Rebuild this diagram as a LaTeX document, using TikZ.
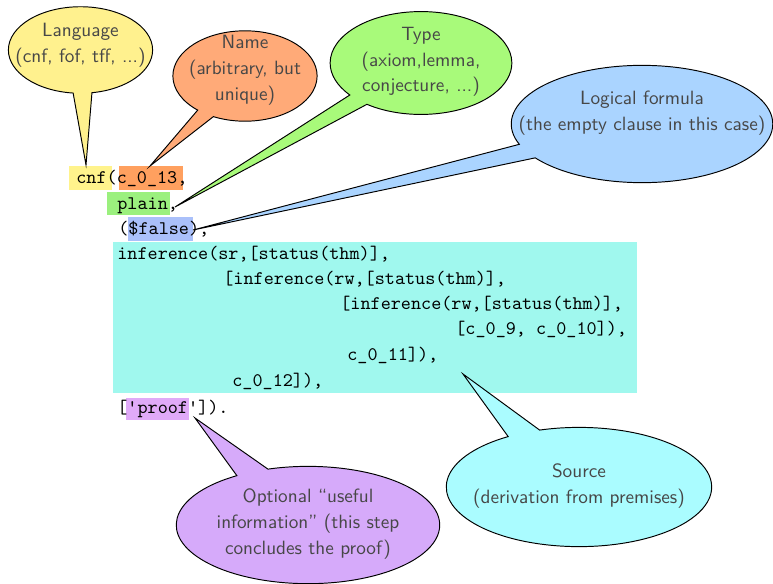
\documentclass[tikz,border=0pt]{standalone}
\usetikzlibrary{shapes.callouts}
% bubble colours
\definecolor{langfill}{RGB}{255,241,142}
\definecolor{namefill}{RGB}{255,170,120}
\definecolor{typefill}{RGB}{168,250,122}
\definecolor{formfill}{RGB}{170,212,255}
\definecolor{srcfill}{RGB}{170,252,255}
\definecolor{optfill}{RGB}{214,170,250}
% highlight colours
\definecolor{hlyellow}{RGB}{255,243,140}
\definecolor{hlorange}{RGB}{255,160,95}
\definecolor{hlgreen}{RGB}{155,240,126}
\definecolor{hlblue}{RGB}{170,192,250}
\definecolor{hlcyan}{RGB}{160,248,238}
\definecolor{hlpurple}{RGB}{224,170,248}
\begin{document}
\begin{tikzpicture}[x=0.52pt,y=-0.52pt,
  bubble/.style={ellipse callout, draw=black, line width=0.5pt, inner sep=0pt},
  btext/.style={font=\sffamily\fontsize{10}{13.4}\selectfont, text=black!72, align=center, inner sep=0pt},
  code/.style={font=\ttfamily, anchor=base west, inner sep=0pt}]
\useasboundingbox (0,0) rectangle (773,583);

% highlighted parts of the clause
\fill[hlyellow] (69,166) rectangle (112,190);
\fill[hlorange] (119,166) rectangle (183,190);
\fill[hlgreen]  (107,192) rectangle (170,215);
\fill[hlblue]   (128,217) rectangle (193,241);
\fill[hlcyan]   (113,242) rectangle (637,393);
\fill[hlpurple] (126,398) rectangle (189,420);

% the TPTP clause
\node[code] (l1)  at (76,183)  {cnf(c\_0\_13,};
\node[code] (l2)  at (117,209) {plain,};
\node[code] (l3)  at (118,234) {(\$false),};
\node[code] (l4)  at (117,259) {inference(sr,[status(thm)],};
\node[code] (l5)  at (223,284) {[inference(rw,[status(thm)],};
\node[code] (l6)  at (340,309) {[inference(rw,[status(thm)],};
\node[code] (l7)  at (455,334) {[c\_0\_9, c\_0\_10]),};
\node[code] (l8)  at (347,360) {c\_0\_11]),};
\node[code] (l9)  at (232,386) {c\_0\_12]),};
\node[code] (l10) at (117,413) {[\textquotesingle proof\textquotesingle]).};

% pointer targets
\coordinate (plang) at (86,165);
\coordinate (pname) at (150,166);
\coordinate (ptype) at (175,207);
\coordinate (pform) at (193,230);
\coordinate (psrc)  at (463,374);
\coordinate (popt)  at (195,418);

% callouts
\node[bubble, fill=langfill, minimum width=75pt, minimum height=45pt,
      callout absolute pointer={(plang)}] (lang) at (80.5,50) {};
\node[bubble, fill=namefill, minimum width=75pt, minimum height=47pt,
      callout absolute pointer={(pname)}] (name) at (245,76) {};
\node[bubble, fill=typefill, minimum width=94.5pt, minimum height=53.5pt,
      callout absolute pointer={(ptype)}] (type) at (421,63) {};
\node[bubble, fill=formfill, minimum width=136pt, minimum height=61pt,
      callout absolute pointer={(pform)}] (form) at (642,124) {};
\node[bubble, fill=srcfill, minimum width=138pt, minimum height=62pt,
      callout absolute pointer={(psrc)}] (src) at (579,487) {};
\node[bubble, fill=optfill, minimum width=137pt, minimum height=61pt,
      callout absolute pointer={(popt)}] (opt) at (308,525) {};

% callout texts
\node[btext] (langt) at (80.5,45) {Language\\(cnf, fof, tff, ...)};
\node[btext] (namet) at (245,70) {Name\\(arbitrary, but\\unique)};
\node[btext] (typet) at (421,62) {Type\\(axiom,lemma,\\conjecture, ...)};
\node[btext] (formt) at (642,113) {Logical formula\\(the empty clause in this case)};
\node[btext] (srct)  at (579,486) {Source\\(derivation from premises)};
\node[btext] (optt)  at (308,524) {Optional ``useful\\information'' (this step\\concludes the proof)};
\end{tikzpicture}
\end{document}
